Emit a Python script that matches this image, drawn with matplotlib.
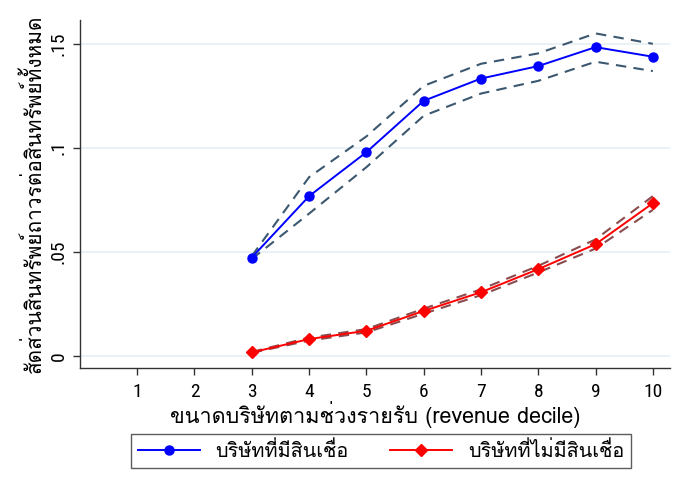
import matplotlib
matplotlib.use("Agg")
import matplotlib.pyplot as plt
from matplotlib import font_manager
from matplotlib.ft2font import FT2Font

# pick any installed font that has Thai glyphs, fall back to DejaVu
thai_fonts = []
for f in font_manager.fontManager.ttflist:
    try:
        if 0x0E01 in FT2Font(f.fname).get_charmap() and f.name not in thai_fonts:
            thai_fonts.append(f.name)
    except Exception:
        pass
plt.rcParams['font.family'] = thai_fonts[:1] + ['DejaVu Sans']

# narrow face for the numbers if one is around
names = set(f.name for f in font_manager.fontManager.ttflist)
num_font = 'DejaVu Sans'
for cand in ['Roboto Condensed', 'Liberation Sans Narrow', 'Open Sans Condensed', 'Roboto']:
    if cand in names:
        num_font = cand
        break

# === Data ===
deciles = [3, 4, 5, 6, 7, 8, 9, 10]

credit_mean = [0.0473, 0.0768, 0.0979, 0.1226, 0.1333, 0.1393, 0.1484, 0.1438]
credit_hi = [0.0480, 0.0859, 0.1055, 0.1298, 0.1404, 0.1454, 0.1550, 0.1500]
credit_lo = [0.0466, 0.0684, 0.0907, 0.1154, 0.1261, 0.1322, 0.1414, 0.1369]

nocredit_mean = [0.0017, 0.0081, 0.0121, 0.0216, 0.0306, 0.0417, 0.0537, 0.0734]
nocredit_hi = [0.0019, 0.0088, 0.0129, 0.0227, 0.0320, 0.0433, 0.0560, 0.0768]
nocredit_lo = [0.0015, 0.0074, 0.0113, 0.0203, 0.0292, 0.0401, 0.0516, 0.0702]

xticks = list(range(1, 11))
yticks = [0, 0.05, 0.1, 0.15]
ytick_labels = ['0', '.05', '.1', '.15']

xlabel = 'ขนาดบริษัทตามช่วงรายรับ (revenue decile)'
ylabel = 'สัดส่วนสินทรัพย์ถาวรต่อสินทรัพย์ทั้งหมด'
label_credit = 'บริษัทที่มีสินเชื่อ'
label_nocredit = 'บริษัทที่ไม่มีสินเชื่อ'

# === Plot ===
fig = plt.figure(figsize=(6.83, 4.91), dpi=100)
ax = fig.add_axes([0.117, 0.2505, 0.864, 0.709])

dash = (0, (5, 3.5))
ax.plot(deciles, credit_hi, color='#3b5870', linestyle=dash, linewidth=1.5)
ax.plot(deciles, credit_lo, color='#3b5870', linestyle=dash, linewidth=1.5)
ax.plot(deciles, nocredit_hi, color='#8a4b4e', linestyle=dash, linewidth=1.5)
ax.plot(deciles, nocredit_lo, color='#8a4b4e', linestyle=dash, linewidth=1.5)

ax.plot(deciles, credit_mean, color='blue', marker='o', markersize=6.5,
        linewidth=1.4, label=label_credit)
ax.plot(deciles, nocredit_mean, color='red', marker='D', markersize=6.5,
        linewidth=1.4, label=label_nocredit)

ax.set_xlim(0, 10.3)
ax.set_ylim(-0.0058, 0.1615)
ax.set_xticks(xticks)
ax.set_xticklabels([str(t) for t in xticks], fontsize=14, family=num_font)
ax.set_yticks(yticks)
ax.set_yticklabels(ytick_labels, fontsize=14, family=num_font,
                   rotation=90, va='center')
ax.tick_params(axis='both', length=5, width=1, color='#333333', pad=4)
ax.tick_params(axis='x', pad=6)

for s in ['top', 'right']:
    ax.spines[s].set_visible(False)
for s in ['left', 'bottom']:
    ax.spines[s].set_color('#333333')
    ax.spines[s].set_linewidth(1.0)

ax.grid(axis='y', color='#e6eff2', linewidth=1.2)
ax.set_axisbelow(True)

ax.set_xlabel(xlabel, fontsize=15.5, labelpad=0)
ax.set_ylabel(ylabel, fontsize=15, labelpad=3)

leg = fig.legend(loc='center', bbox_to_anchor=(0.558, 0.081), ncol=2,
                 fontsize=14.3, frameon=True, fancybox=False, handlelength=3.1,
                 columnspacing=2.1, borderpad=0.35)
leg.get_frame().set_edgecolor('#333333')
leg.get_frame().set_linewidth(1.0)

fig.savefig('out.png', dpi=100)
